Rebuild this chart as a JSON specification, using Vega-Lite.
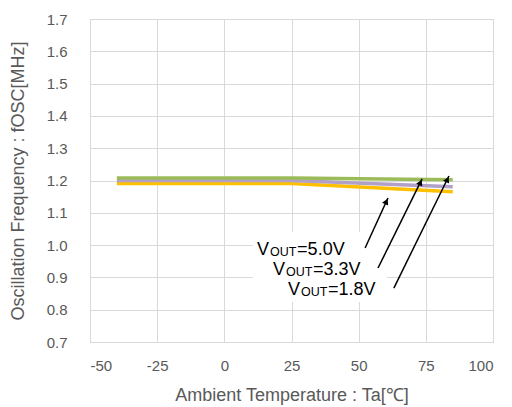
{
  "$schema": "https://vega.github.io/schema/vega-lite/v6.json",
  "width": 403,
  "height": 323,
  "autosize": {"type": "none"},
  "padding": {"left": 90, "top": 19, "right": 19, "bottom": 65},
  "background": "white",
  "config": {
    "view": {"stroke": "#D9D9D9", "strokeWidth": 1},
    "font": "Liberation Sans",
    "axis": {
      "gridColor": "#D9D9D9",
      "gridWidth": 1,
      "domain": false,
      "ticks": false,
      "tickSize": 0,
      "labelColor": "#595959",
      "titleColor": "#595959",
      "labelFont": "Liberation Sans",
      "titleFont": "Liberation Sans",
      "labelFontSize": 15,
      "titleFontSize": 18,
      "titleFontWeight": "normal",
      "labelOverlap": false,
      "labelBound": false
    }
  },
  "datasets": {
    "curves": [
      {"vout": "1.8V", "ta": -40, "fosc": 1.191},
      {"vout": "1.8V", "ta": 25, "fosc": 1.191},
      {"vout": "1.8V", "ta": 85, "fosc": 1.165},
      {"vout": "3.3V", "ta": -40, "fosc": 1.200},
      {"vout": "3.3V", "ta": 25, "fosc": 1.200},
      {"vout": "3.3V", "ta": 85, "fosc": 1.181},
      {"vout": "5.0V", "ta": -40, "fosc": 1.208},
      {"vout": "5.0V", "ta": 25, "fosc": 1.208},
      {"vout": "5.0V", "ta": 85, "fosc": 1.202}
    ],
    "box": [{"x1": 10.6, "x2": 60.5, "y1": 1.041, "y2": 0.824}],
    "arrows": [
      {"vout": "5.0V", "x0": 52.4, "y0": 0.991, "x1": 60.9, "y1": 1.146, "hx": 60.3, "hy": 1.135},
      {"vout": "3.3V", "x0": 57.2, "y0": 0.929, "x1": 73.6, "y1": 1.205, "hx": 73.0, "hy": 1.194},
      {"vout": "1.8V", "x0": 63.1, "y0": 0.867, "x1": 83.6, "y1": 1.214, "hx": 83.0, "hy": 1.203}
    ],
    "labels": [
      {"x": 12.2, "y": 0.969, "v": "V", "sub": "OUT", "rest": "=5.0V"},
      {"x": 18.1, "y": 0.907, "v": "V", "sub": "OUT", "rest": "=3.3V"},
      {"x": 23.7, "y": 0.845, "v": "V", "sub": "OUT", "rest": "=1.8V"}
    ]
  },
  "layer": [
    {
      "data": {"name": "curves"},
      "mark": {"type": "line", "strokeWidth": 3.5, "strokeCap": "butt"},
      "encoding": {
        "x": {
          "field": "ta", "type": "quantitative",
          "scale": {"domain": [-50, 100], "nice": false, "zero": false},
          "axis": {"values": [-50, -25, 0, 25, 50, 75, 100], "tickCount": 7, "labelExpr": "replace(datum.label, '\u2212', '-')", "title": "Ambient Temperature : Ta[℃]", "labelPadding": 16, "titlePadding": 13}
        },
        "y": {
          "field": "fosc", "type": "quantitative",
          "scale": {"domain": [0.7, 1.7], "nice": false, "zero": false},
          "axis": {"values": [0.7, 0.8, 0.9, 1.0, 1.1, 1.2, 1.3, 1.4, 1.5, 1.6, 1.7], "tickCount": 11, "format": ".1f", "title": "Oscillation Frequency : fOSC[MHz]", "labelPadding": 23, "titlePadding": 19}
        },
        "color": {
          "field": "vout", "type": "nominal",
          "scale": {"domain": ["1.8V", "3.3V", "5.0V"], "range": ["#FFC000", "#B1A0C7", "#9BBB59"]},
          "legend": null
        },
        "order": {"field": "vout"}
      }
    },
    {
      "data": {"name": "box"},
      "mark": {"type": "rect", "fill": "white", "stroke": null},
      "encoding": {
        "x": {"field": "x1", "type": "quantitative"},
        "x2": {"field": "x2"},
        "y": {"field": "y1", "type": "quantitative"},
        "y2": {"field": "y2"}
      }
    },
    {
      "data": {"name": "arrows"},
      "mark": {"type": "rule", "color": "black", "strokeWidth": 1.5},
      "encoding": {
        "x": {"field": "x0", "type": "quantitative"},
        "y": {"field": "y0", "type": "quantitative"},
        "x2": {"field": "x1"},
        "y2": {"field": "y1"}
      }
    },
    {
      "data": {"name": "arrows"},
      "mark": {"type": "point", "shape": "triangle-up", "filled": true, "color": "black", "size": 45, "angle": 25, "opacity": 1},
      "encoding": {
        "x": {"field": "hx", "type": "quantitative"},
        "y": {"field": "hy", "type": "quantitative"}
      }
    },
    {
      "data": {"name": "labels"},
      "mark": {"type": "text", "align": "left", "baseline": "alphabetic", "fontSize": 18, "color": "black", "font": "Liberation Sans"},
      "encoding": {
        "x": {"field": "x", "type": "quantitative"},
        "y": {"field": "y", "type": "quantitative"},
        "text": {"field": "v"}
      }
    },
    {
      "data": {"name": "labels"},
      "mark": {"type": "text", "align": "left", "baseline": "alphabetic", "fontSize": 12.5, "dx": 13, "dy": 1, "color": "black", "font": "Liberation Sans"},
      "encoding": {
        "x": {"field": "x", "type": "quantitative"},
        "y": {"field": "y", "type": "quantitative"},
        "text": {"field": "sub"}
      }
    },
    {
      "data": {"name": "labels"},
      "mark": {"type": "text", "align": "left", "baseline": "alphabetic", "fontSize": 18, "dx": 40, "color": "black", "font": "Liberation Sans"},
      "encoding": {
        "x": {"field": "x", "type": "quantitative"},
        "y": {"field": "y", "type": "quantitative"},
        "text": {"field": "rest"}
      }
    }
  ]
}
